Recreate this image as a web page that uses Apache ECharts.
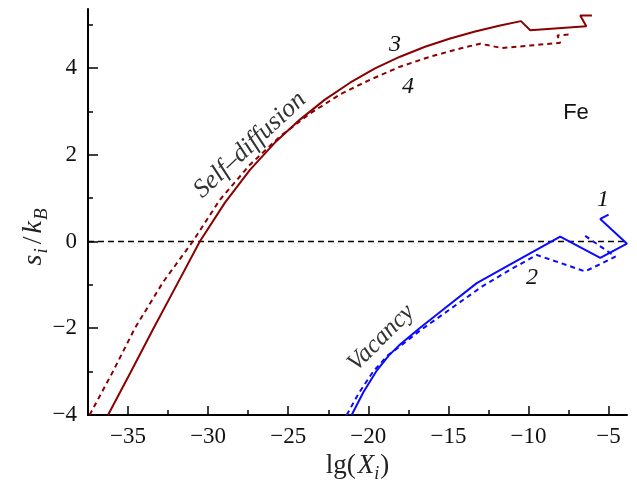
<!DOCTYPE html>
<html>
<head>
<meta charset="utf-8">
<script src="https://cdn.jsdelivr.net/npm/echarts@6/dist/echarts.min.js"></script>
<style>
  html, body { margin: 0; padding: 0; background: #fff; }
  #chart { width: 637px; height: 484px; }
</style>
</head>
<body>
<div id="chart"></div>
<script>
// curve 3: self-diffusion, solid
const selfSolid = [
  [-36.25, -4.0], [-34.83, -3.01], [-33.39, -1.99], [-31.96, -1.0], [-30.52, 0.0],
  [-28.96, 0.89], [-27.39, 1.65], [-25.83, 2.28], [-24.27, 2.81], [-22.71, 3.27],
  [-21.14, 3.66], [-19.58, 3.99], [-18.02, 4.26], [-16.46, 4.49], [-14.89, 4.68],
  [-13.33, 4.84], [-11.77, 4.98], [-10.47, 5.08], [-9.89, 4.87], [-6.39, 4.96],
  [-6.77, 5.21], [-6.04, 5.21]
];
// curve 4: self-diffusion, dashed
const selfDashed = [
  [-37.4, -4.0], [-35.96, -3.01], [-34.56, -1.99], [-32.8, -0.93], [-30.96, 0.0],
  [-29.27, 0.96], [-27.39, 1.77], [-25.52, 2.42], [-23.64, 2.95], [-21.77, 3.39],
  [-19.89, 3.73], [-18.02, 4.03], [-16.14, 4.26], [-14.27, 4.45], [-13.02, 4.56],
  [-11.66, 4.46], [-8.02, 4.58], [-8.19, 4.75], [-7.5, 4.77]
];
// curve 1: vacancy, solid
const vacSolid = [
  [-21.04, -4.0], [-20.3, -3.47], [-19.5, -2.99], [-18.7, -2.62], [-18.0, -2.37],
  [-16.8, -2.0], [-15.5, -1.62], [-13.23, -0.96], [-10.52, -0.40], [-8.02, 0.115],
  [-5.52, -0.38], [-3.85, -0.05], [-5.52, 0.52], [-5.0, 0.62]
];
// curve 2: vacancy, dashed
const vacDashed = [
  [-21.35, -4.0], [-20.6, -3.5], [-19.7, -3.0], [-18.8, -2.63], [-18.0, -2.41],
  [-16.8, -2.06], [-15.5, -1.72], [-12.91, -1.04], [-11.14, -0.65], [-9.48, -0.31],
  [-6.46, -0.69], [-4.58, -0.35], [-6.46, 0.13]
];
const zeroLine = [[-37.5, 0], [-3.85, 0]];

const xMajor = [-35, -30, -25, -20, -15, -10, -5];
const xMinor = [-32.5, -27.5, -22.5, -17.5, -12.5, -7.5];
const yMajor = [-4, -2, 0, 2, 4];
const yMinor = [-3, -1, 1, 3, 5];

const RED = '#8b0000';
const BLUE = '#0a0aff';
const SERIF = '"Liberation Serif", "DejaVu Serif", serif';

const minus = v => (v < 0 ? '\u2212' + Math.abs(v) : String(v));

const chart = echarts.init(document.getElementById('chart'));

const line = (data, color, dashed) => ({
  type: 'line',
  data: data,
  symbol: 'none',
  silent: true,
  lineStyle: { color: color, width: 2, type: dashed ? [5, 4] : 'solid' }
});

const textEl = (text, x, y, size, opts = {}) => ({
  type: 'text',
  x: x,
  y: y,
  rotation: opts.rot || 0,
  style: {
    text: text,
    fill: opts.color || '#111',
    font: (opts.italic === false ? '' : 'italic ') + size + 'px ' + (opts.family || SERIF),
    align: 'center',
    verticalAlign: 'middle'
  }
});

chart.setOption({
  animation: false,
  grid: { left: 88, right: 10, top: 9, bottom: 69, containLabel: false, outerBoundsMode: 'none' },
  xAxis: [{
    type: 'value',
    min: -37.5,
    max: -3.85,
    position: 'bottom',
    name: '{a|lg(}{b|X}{c|i}{a|)}',
    nameLocation: 'middle',
    nameGap: 29,
    nameTextStyle: {
      rich: {
        a: { fontFamily: SERIF, fontSize: 27, color: '#222' },
        b: { fontFamily: SERIF, fontSize: 27, fontStyle: 'italic', color: '#222', padding: [0, 0, 0, 2] },
        c: { fontFamily: SERIF, fontSize: 18, fontStyle: 'italic', color: '#222', padding: [15, 1, 0, 0] }
      }
    },
    splitLine: { show: false },
    axisLine: { onZero: false, lineStyle: { color: '#000', width: 2 } },
    axisTick: { inside: true, length: 9, customValues: xMajor, lineStyle: { color: '#000', width: 1.5 } },
    axisLabel: {
      customValues: xMajor, formatter: minus, margin: 10,
      fontFamily: SERIF, fontSize: 23, color: '#111'
    }
  }, {
    type: 'value',
    min: -37.5,
    max: -3.85,
    position: 'bottom',
    splitLine: { show: false },
    axisLine: { show: false, onZero: false },
    axisLabel: { show: false },
    axisTick: { inside: true, length: 5, customValues: xMinor, lineStyle: { color: '#000', width: 1.5 } }
  }],
  yAxis: [{
    type: 'value',
    min: -4,
    max: 5.36,
    position: 'left',
    splitLine: { show: false },
    axisLine: { onZero: false, lineStyle: { color: '#000', width: 2 } },
    axisTick: { inside: true, length: 10, customValues: yMajor, lineStyle: { color: '#000', width: 1.5 } },
    axisLabel: {
      customValues: yMajor, formatter: minus, margin: 11,
      fontFamily: SERIF, fontSize: 23, color: '#111'
    }
  }, {
    type: 'value',
    min: -4,
    max: 5.36,
    position: 'left',
    splitLine: { show: false },
    axisLine: { show: false, onZero: false },
    axisLabel: { show: false },
    axisTick: { inside: true, length: 5, customValues: yMinor, lineStyle: { color: '#000', width: 1.5 } }
  }],
  series: [
    {
      type: 'line', data: zeroLine, symbol: 'none', silent: true,
      lineStyle: { color: '#000', width: 1.3, type: [6, 4] }
    },
    line(selfDashed, RED, true),
    line(selfSolid, RED, false),
    line(vacDashed, BLUE, true),
    line(vacSolid, BLUE, false)
  ],
  graphic: [
    {
      // y-axis title s_i/k_B
      type: 'text',
      x: 34,
      y: 236,
      rotation: Math.PI / 2,
      style: {
        text: '{i|s}{s|i}{a|/}{i|k}{s|B}',
        align: 'center',
        verticalAlign: 'middle',
        rich: {
          a: { fontFamily: SERIF, fontSize: 28, fill: '#222', padding: [0, 3, 0, 2] },
          i: { fontFamily: SERIF, fontSize: 28, fontStyle: 'italic', fill: '#222' },
          s: { fontFamily: SERIF, fontSize: 19, fontStyle: 'italic', fill: '#222', padding: [16, 2, 0, 1] }
        }
      }
    },
    textEl('Self\u2013diffusion', 250, 145, 26, { rot: 43 * Math.PI / 180, color: '#333' }),
    textEl('Vacancy', 381, 338, 25, { rot: 45 * Math.PI / 180, color: '#333' }),
    textEl('Fe', 576, 113, 22, { italic: false, family: '"Liberation Sans", Arial, sans-serif' }),
    textEl('1', 603, 200, 24),
    textEl('2', 532, 278, 24),
    textEl('3', 395, 45, 24),
    textEl('4', 408, 87, 24)
  ]
});
</script>
</body>
</html>
